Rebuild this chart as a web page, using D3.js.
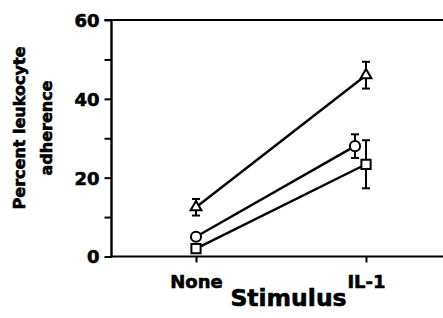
<!DOCTYPE html>
<html>
<head>
<meta charset="utf-8">
<script src="https://cdn.jsdelivr.net/npm/d3@7"></script>
<style>
  html, body { margin: 0; padding: 0; background: #fff; }
  svg { display: block; }
  text { font-family: "DejaVu Sans", sans-serif; font-weight: bold; fill: #000; stroke: #000; stroke-width: 0.6px; }
</style>
</head>
<body>
<svg id="chart" width="443" height="318"></svg>
<script>
// ---- data ----
const categories = ["None", "IL-1"];
const triangleValues = [12.5, 46.0];
const triangleErrors = [2.1, 3.4];
const circleValues = [5.0, 28.0];
const circleErrors = [0.8, 3.0];
const squareValues = [2.0, 23.4];
const squareErrors = [0.8, 6.1];
const yTickValues = [0, 10, 20, 30, 40, 50, 60];
const yTickLabels = ["0", "", "20", "", "40", "", "60"];
const yLabelLines = ["Percent leukocyte", "adherence"];
const xLabel = "Stimulus";

// ---- layout ----
const W = 443, H = 318;
const axisX = 111.5, yTop = 20, yBottom = 256.5;
const svg = d3.select("#chart");

const x = d3.scalePoint().domain(categories).range([196, 366]);
const y = d3.scaleLinear().domain([0, 60]).range([yBottom, yTop]);

const series = [
  { name: "triangle", values: triangleValues, errors: triangleErrors, symbol: d3.symbolTriangle, size: 50, dodge: [0, 0] },
  { name: "circle", values: circleValues, errors: circleErrors, symbol: d3.symbolCircle, size: 80, dodge: [0, -11] },
  { name: "square", values: squareValues, errors: squareErrors, symbol: d3.symbolSquare, size: 85, dodge: [0, 0] }
];

// ---- axes ----
const yAxis = d3.axisLeft(y).tickValues(yTickValues)
  .tickFormat((d, i) => yTickLabels[i]).tickSize(7).tickPadding(5);
const gy = svg.append("g").attr("transform", `translate(${axisX},0)`).call(yAxis);
gy.select(".domain").remove();
gy.selectAll(".tick line").attr("stroke", "#000").attr("stroke-width", 2);
gy.selectAll(".tick text").style("font-size", "18px").attr("dy", "0.36em");

const xAxis = d3.axisBottom(x).tickSize(6).tickPadding(0).tickFormat(d => d);
const gx = svg.append("g").attr("transform", `translate(0,${yBottom})`).call(xAxis);
gx.select(".domain").remove();
gx.selectAll(".tick line").attr("stroke", "#000").attr("stroke-width", 2);
gx.selectAll(".tick text").style("font-size", "18px").attr("y", 31.5).attr("dy", 0);

// frame lines
svg.append("line").attr("x1", axisX).attr("x2", axisX).attr("y1", yTop - 1).attr("y2", yBottom + 1)
  .attr("stroke", "#000").attr("stroke-width", 2.4);
svg.append("line").attr("x1", axisX - 7).attr("x2", W).attr("y1", yTop).attr("y2", yTop)
  .attr("stroke", "#000").attr("stroke-width", 2.2);
svg.append("line").attr("x1", axisX).attr("x2", W).attr("y1", yBottom).attr("y2", yBottom)
  .attr("stroke", "#000").attr("stroke-width", 2.2);

// axis titles
const yl = svg.append("text").attr("transform", "translate(0,128) rotate(-90)")
  .attr("text-anchor", "middle").style("font-size", "16px");
yl.append("tspan").attr("x", 0).attr("y", 25).text(yLabelLines[0]);
yl.append("tspan").attr("x", 0).attr("y", 52).text(yLabelLines[1]);

svg.append("text").attr("x", 288.5).attr("y", 306).attr("text-anchor", "middle")
  .style("font-size", "23.5px").text(xLabel);

// ---- series ----
const px = (s, i) => x(categories[i]) + s.dodge[i];
const line = d3.line().x(d => d.x).y(d => d.y);

series.forEach(s => {
  const pts = s.values.map((v, i) => ({ x: px(s, i), y: y(v), v, e: s.errors[i] }));
  svg.append("path").attr("d", line(pts)).attr("fill", "none")
    .attr("stroke", "#000").attr("stroke-width", 2.4);
  const g = svg.append("g");
  pts.forEach(p => {
    const capW = 4;
    g.append("line").attr("x1", p.x).attr("x2", p.x).attr("y1", y(p.v + p.e)).attr("y2", y(p.v - p.e))
      .attr("stroke", "#000").attr("stroke-width", 2);
    [p.v + p.e, p.v - p.e].forEach(t => {
      g.append("line").attr("x1", p.x - capW).attr("x2", p.x + capW).attr("y1", y(t)).attr("y2", y(t))
        .attr("stroke", "#000").attr("stroke-width", 2);
    });
  });
  pts.forEach(p => {
    g.append("path").attr("d", d3.symbol().type(s.symbol).size(s.size)())
      .attr("transform", `translate(${p.x},${p.y})`)
      .attr("fill", "#fff").attr("stroke", "#000").attr("stroke-width", 2);
  });
});
</script>
</body>
</html>
